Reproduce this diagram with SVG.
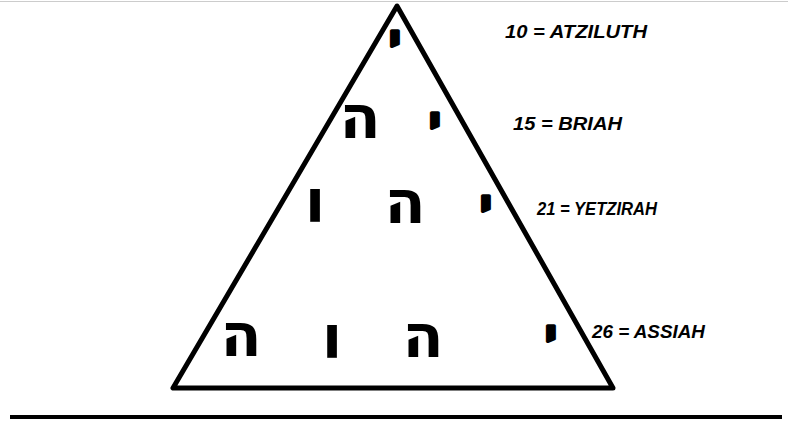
<svg xmlns="http://www.w3.org/2000/svg" width="788" height="433" viewBox="0 0 788 433">
<style>
.heb{font-family:"DejaVu Sans","Liberation Sans",sans-serif;font-weight:bold;font-size:60px;fill:#000;text-anchor:middle}
.yod{font-size:40px;stroke:#000;stroke-width:3.5;stroke-linejoin:round}
.lbl{font-family:"Liberation Sans","DejaVu Sans",sans-serif;font-style:italic;font-weight:bold;font-size:18px;fill:#000}
</style>
<rect x="0" y="0" width="788" height="433" fill="#fff"/>
<line x1="0" y1="1.5" x2="788" y2="1.5" stroke="#ccc" stroke-width="1"/>
<g id="triangle">
<polygon points="397,6 173,388 613,388" fill="none" stroke="#000" stroke-width="5" stroke-linejoin="round"/>
</g>
<g id="ground">
<line x1="10" y1="417" x2="782" y2="417" stroke="#000" stroke-width="4"/>
</g>
<g id="row1">
<text class="heb yod" x="395" y="53">י</text>
</g>
<g id="row2">
<text class="heb" x="360" y="138">ה</text>
<text class="heb yod" x="435" y="135">י</text>
</g>
<g id="row3">
<text class="heb" x="315" y="222">ו</text>
<text class="heb" x="405" y="223">ה</text>
<text class="heb yod" x="486" y="218">י</text>
</g>
<g id="row4">
<text class="heb" x="241" y="356">ה</text>
<text class="heb" x="332" y="358">ו</text>
<text class="heb" x="423" y="357">ה</text>
<text class="heb yod" x="551" y="348">י</text>
</g>
<g id="labels">
<text class="lbl" x="505" y="38" textLength="142" lengthAdjust="spacingAndGlyphs">10 = ATZILUTH</text>
<text class="lbl" x="513" y="130" textLength="109" lengthAdjust="spacingAndGlyphs">15 = BRIAH</text>
<text class="lbl" x="537" y="215" textLength="120" lengthAdjust="spacingAndGlyphs">21 = YETZIRAH</text>
<text class="lbl" x="592" y="338" textLength="113" lengthAdjust="spacingAndGlyphs">26 = ASSIAH</text>
</g>
</svg>
